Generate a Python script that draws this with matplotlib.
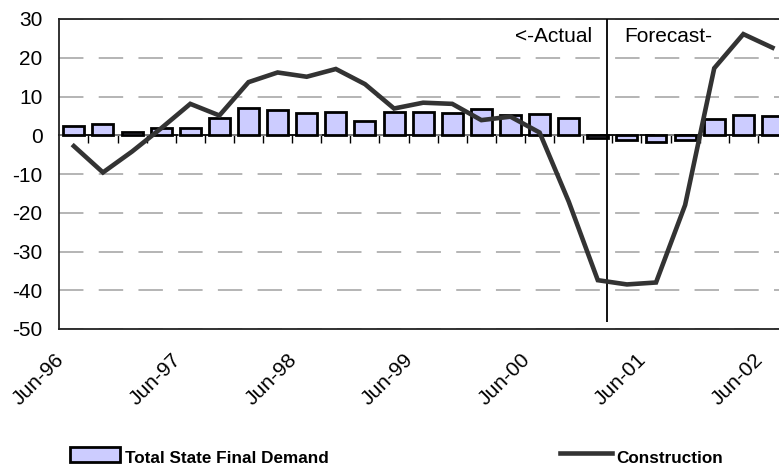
import numpy as np
import matplotlib
matplotlib.use('Agg')
import matplotlib.pyplot as plt
from matplotlib.patches import Rectangle
from matplotlib.lines import Line2D
from matplotlib.transforms import ScaledTranslation

plt.rcParams['font.family'] = ['Liberation Sans', 'DejaVu Sans']
plt.rcParams['axes.unicode_minus'] = False

# quarterly % change, Jun-96 .. Jun-02
quarters = ['Jun-96', 'Sep-96', 'Dec-96', 'Mar-97', 'Jun-97', 'Sep-97', 'Dec-97',
            'Mar-98', 'Jun-98', 'Sep-98', 'Dec-98', 'Mar-99', 'Jun-99', 'Sep-99',
            'Dec-99', 'Mar-00', 'Jun-00', 'Sep-00', 'Dec-00', 'Mar-01', 'Jun-01',
            'Sep-01', 'Dec-01', 'Mar-02', 'Jun-02']
demand = [2.3, 2.8, 0.9, 2.0, 1.9, 4.4, 7.1, 6.4, 5.7, 6.1, 3.7, 6.0, 5.9,
          5.7, 6.7, 5.3, 5.6, 4.5, -0.8, -1.2, -1.7, -1.1, 4.1, 5.2, 5.0]
construction = [-2.8, -9.6, -4.2, 1.8, 8.1, 5.1, 13.7, 16.2, 15.1, 17.1, 13.2,
                6.9, 8.4, 8.1, 3.9, 4.8, 0.7, -17.1, -37.4, -38.5, -38.0,
                -18.0, 17.3, 26.1, 22.6]
tick_labels = ['Jun-96', 'Jun-97', 'Jun-98', 'Jun-99', 'Jun-00', 'Jun-01', 'Jun-02']
yticks = [-50, -40, -30, -20, -10, 0, 10, 20, 30]

W, H = 779, 467
fig = plt.figure(figsize=(W / 100, H / 100), dpi=100)
ax = fig.add_axes([59.3 / W, 138 / H, 727.7 / W, 310 / H])

x = np.arange(len(quarters))
ax.bar(x, demand, width=0.72, color='#ccccff', edgecolor='black',
       linewidth=2.0, zorder=2)
ax.plot(x, construction, color='#333333', lw=3.3, zorder=4,
        solid_joinstyle='miter')

ax.set_xlim(-0.5, len(quarters) - 0.5)
ax.set_ylim(-50, 30)
ax.set_yticks(yticks)
ax.set_yticklabels([str(v) for v in yticks], fontsize=15)
ax.tick_params(axis='y', length=0, pad=12)

ax.set_xticks([quarters.index(t) for t in tick_labels])
ax.set_xticklabels(tick_labels, fontsize=15, rotation=45, ha='right', va='top')
ax.tick_params(axis='x', length=0, pad=15)
shift = ScaledTranslation(-6 / 100, 0, fig.dpi_scale_trans)
for lab in ax.get_xticklabels():
    lab.set_transform(lab.get_transform() + shift)

ax.yaxis.grid(True, color='#a0a0a0', lw=1.1, linestyle=(0, (16, 10)))
ax.set_axisbelow(True)
for s in ['left', 'top', 'bottom']:
    ax.spines[s].set_linewidth(1.3)
    ax.spines[s].set_color('#222222')
ax.spines['right'].set_visible(False)

# zero axis with category tick marks
zero = ax.secondary_xaxis(50 / 80)
zero.set_alignment('bottom')
zero.set_xticks(x[:-1] + 0.5)
zero.set_xticklabels([])
zero.tick_params(direction='out', length=6, width=1, color='black')
zero.spines['bottom'].set_linewidth(1.3)

# actual / forecast split
split_x = 18.31
ax.vlines(split_x, -48.2, 30, color='black', lw=1.3, zorder=3)
ax.text(17.8, 25.5, '<-Actual', fontsize=15, ha='right', va='center')
ax.text(18.9, 25.5, 'Forecast-', fontsize=15, ha='left', va='center')

# legend
bold = dict(fontsize=12.3, fontweight='bold')
fig.add_artist(Rectangle((70 / W, 5 / H), 50 / W, 15 / H, transform=fig.transFigure,
                         facecolor='#ccccff', edgecolor='black', lw=2.0))
fig.text(125 / W, 1 / H, 'Total State Final Demand', ha='left', va='bottom', **bold)
fig.add_artist(Line2D([560 / W, 612 / W], [14.3 / H, 14.3 / H],
                      transform=fig.transFigure, color='#333333', lw=3.3))
fig.text(616 / W, 1 / H, 'Construction', ha='left', va='bottom', **bold)

fig.savefig('out.png', dpi=100)
